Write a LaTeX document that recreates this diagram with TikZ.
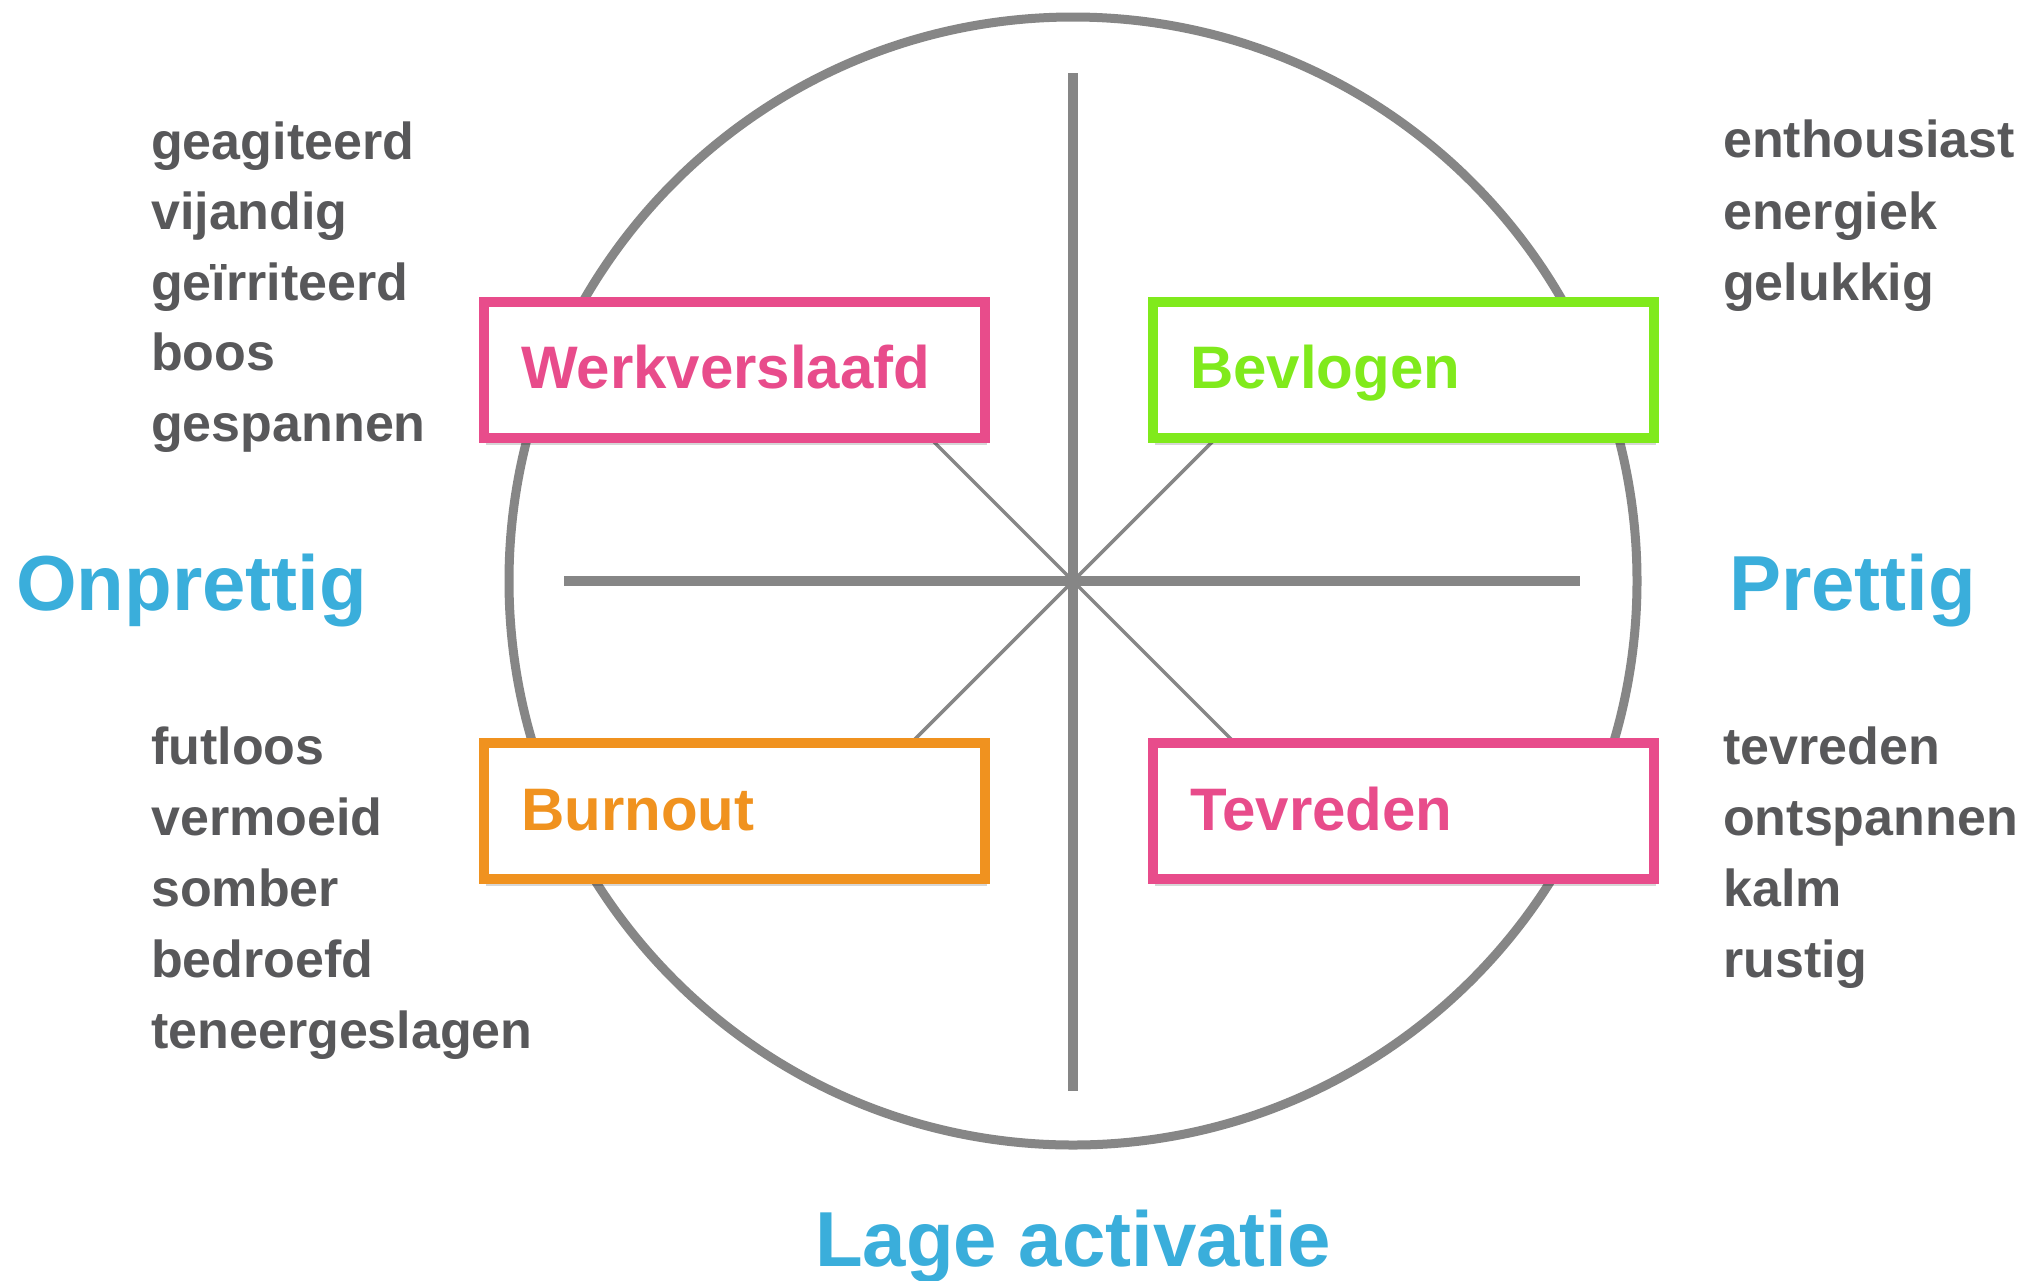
\documentclass[tikz,border=0pt]{standalone}
\usepackage{fontspec}
\setmainfont{Liberation Sans}
\usetikzlibrary{shadows}
\definecolor{txtgray}{HTML}{58585A}
\definecolor{axisgray}{HTML}{868686}
\definecolor{titleblue}{HTML}{3AAEDB}
\definecolor{boxpink}{HTML}{E84C8B}
\definecolor{boxgreen}{HTML}{80EA1C}
\definecolor{boxorange}{HTML}{F0921F}
\tikzset{
  word/.style={anchor=base west, inner sep=0pt, text=txtgray, font=\fontsize{52}{62}\selectfont\bfseries},
  axistitle/.style={inner sep=0pt, text=titleblue, font=\fontsize{78}{90}\selectfont\bfseries},
  quadbox/.style={draw=#1, line width=10pt, fill=white, minimum width=501pt, minimum height=136pt, inner sep=0pt,
    drop shadow={shadow xshift=2pt, shadow yshift=-7pt, opacity=0.16, fill=black}},
  boxlabel/.style={anchor=base west, inner sep=0pt, text=#1, font=\fontsize{60}{70}\selectfont\bfseries},
  ringline/.style={draw=axisgray, line width=9pt},
  axisline/.style={draw=axisgray, line width=10pt},
  diagline/.style={draw=axisgray, line width=3.5pt},
}
\begin{document}
\begin{tikzpicture}[x=1pt,y=-1pt]
\useasboundingbox[fill=white] (0,0) rectangle (2028,1280);
% circle and axes
\coordinate (c) at (1073,581);
\draw[ringline] (c) circle[radius=564];
\coordinate (vt) at (1073,73);
\coordinate (vb) at (1073,1091);
\coordinate (hl) at (564,581);
\coordinate (hr) at (1580,581);
\coordinate (dtl) at (873,381);
\coordinate (dtr) at (1273,381);
\coordinate (dbl) at (873,781);
\coordinate (dbr) at (1273,781);
\draw[diagline] (c) -- (dtl);
\draw[diagline] (c) -- (dtr);
\draw[diagline] (c) -- (dbl);
\draw[diagline] (c) -- (dbr);
\draw[axisline] (vt) -- (vb);
\draw[axisline] (hl) -- (hr);
% boxes
\node[quadbox=boxpink] (wk) at (734.5,369.5) {};
\node[quadbox=boxgreen] (bv) at (1403.5,369.5) {};
\node[quadbox=boxorange] (bo) at (734.5,811) {};
\node[quadbox=boxpink] (tv) at (1403.5,811) {};
\node[boxlabel=boxpink] (wkl) at (521,388) {Werkverslaafd};
\node[boxlabel=boxgreen] (bvl) at (1190,388) {Bevlogen};
\node[boxlabel=boxorange] (bol) at (521,830) {Burnout};
\node[boxlabel=boxpink] (tvl) at (1190,830) {Tevreden};
% axis titles
\node[axistitle, anchor=base west] (onp) at (16,610) {Onprettig};
\node[axistitle, anchor=base west] (pre) at (1729,610) {Prettig};
\node[axistitle, anchor=base] (lage) at (1073,1266) {Lage activatie};
% word lists
\node[word] (a1) at (151,159) {geagiteerd};
\node[word] (a2) at (151,229.5) {vijandig};
\node[word] (a3) at (151,300) {geïrriteerd};
\node[word] (a4) at (151,370.5) {boos};
\node[word] (a5) at (151,441) {gespannen};
\node[word] (b1) at (1723,157) {enthousiast};
\node[word] (b2) at (1723,229) {energiek};
\node[word] (b3) at (1723,300) {gelukkig};
\node[word] (c1) at (151,764.5) {futloos};
\node[word] (c2) at (151,835.5) {vermoeid};
\node[word] (c3) at (151,906.5) {somber};
\node[word] (c4) at (151,977.5) {bedroefd};
\node[word] (c5) at (151,1048) {teneergeslagen};
\node[word] (d1) at (1723,764.5) {tevreden};
\node[word] (d2) at (1723,835.5) {ontspannen};
\node[word] (d3) at (1723,906.5) {kalm};
\node[word] (d4) at (1723,977.5) {rustig};
\end{tikzpicture}
\end{document}
